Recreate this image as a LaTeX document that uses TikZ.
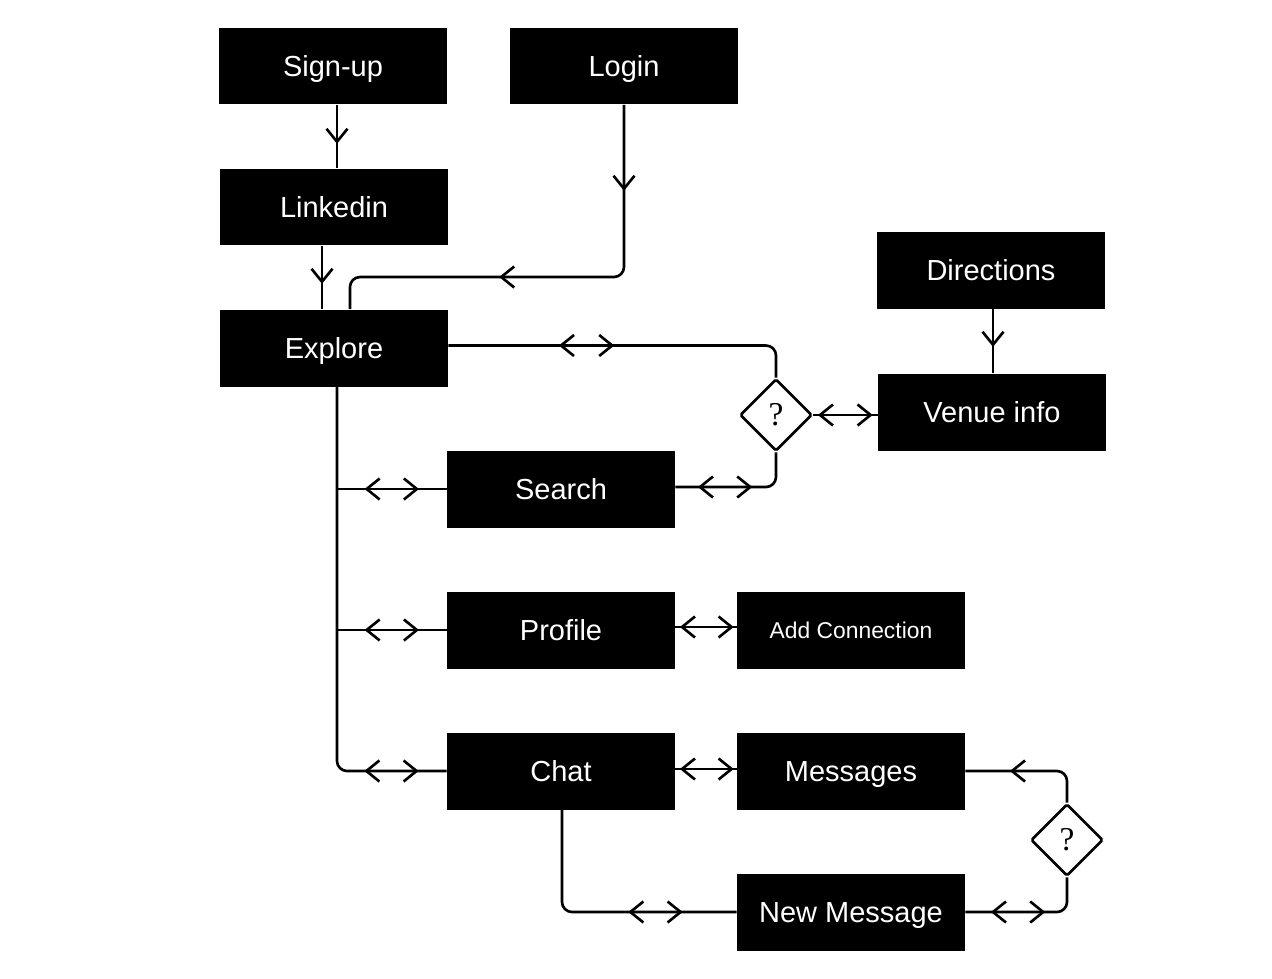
\documentclass[tikz,border=0pt]{standalone}
\usepackage{fontspec}
\setmainfont{Liberation Sans}
\newfontfamily\qfont{Liberation Serif}
\usetikzlibrary{arrows.meta, shapes.geometric, decorations.markings}
\tikzset{
  box/.style={fill=black, text=white, minimum width=4.56cm, minimum height=1.54cm,
    inner sep=0pt, text height=11.8pt, text depth=0pt, font=\fontsize{16.5}{20}\selectfont},
  choice/.style={diamond, draw, line width=1.5pt, fill=white, minimum size=1.44cm,
    inner sep=0pt, rounded corners=1pt, font=\qfont\fontsize{19}{20}\selectfont},
  link/.style={line width=1.5pt, rounded corners=2mm},
  fwd/.style={decoration={markings, mark=at position #1 with {\arrow{>}}},
    postaction={decorate}},
  back/.style={decoration={markings, mark=at position #1 with {\arrow{<}}},
    postaction={decorate}},
  fwdfwd/.style 2 args={decoration={markings, mark=at position #1 with {\arrow{>}},
    mark=at position #2 with {\arrow{>}}}, postaction={decorate}},
  twoway/.style 2 args={decoration={markings, mark=at position #1 with {\arrow{<}},
    mark=at position #2 with {\arrow{>}}}, postaction={decorate}}
}

\begin{document}
\begin{tikzpicture}[x=0.02cm, y=-0.02cm, >={Straight Barb[length=2.6mm, width=4.2mm]}]
  \useasboundingbox (0,0) rectangle (1272,978);

  % Screens
  \node[box] (signup) at (333,66) {Sign-up};
  \node[box] (login) at (624,66) {Login};
  \node[box] (linkedin) at (334,207) {Linkedin};
  \node[box] (explore) at (334,348) {Explore};
  \node[box] (directions) at (991,270) {Directions};
  \node[box] (venue) at (992,412) {Venue info};
  \node[box] (search) at (561,489) {Search};
  \node[box] (profile) at (561,630) {Profile};
  \node[box, text height=9.3pt, font=\fontsize{13}{16}\selectfont] (addconn) at (851,630) {Add Connection};
  \node[box] (chat) at (561,771) {Chat};
  \node[box] (messages) at (851,771) {Messages};
  \node[box] (newmsg) at (851,912) {New Message};

  % Decisions
  \node[choice] (q1) at (776,415) {?};
  \node[choice] (q2) at (1067,840) {?};

  % Entry flow
  \draw[link, fwd=0.78cm] ([xshift=0.08cm]signup.south) -- ([xshift=0.08cm]signup.south |- linkedin.north);
  \draw[link, fwd=0.76cm] ([xshift=-0.24cm]linkedin.south) -- ([xshift=-0.24cm]linkedin.south |- explore.north);
  \coordinate (exin) at ([xshift=0.32cm]explore.north);
  \draw[link, fwdfwd={1.72cm}{-3.54cm}] (login.south) |- (exin |- 0,277) -- (exin);

  % Explore and venues
  \draw[link, twoway={2.54cm}{3.32cm}] ([yshift=0.05cm]explore.east) -| (q1.north);
  \draw[link, twoway={0.42cm}{-0.1cm}] (q1.east) -- (q1.east -| venue.west);
  \draw[link, twoway={0.78cm}{1.54cm}] ([yshift=0.04cm]search.east) -| (q1.south);
  \draw[link, fwd=0.76cm] ([xshift=0.04cm]directions.south) -- ([xshift=0.04cm]directions.south |- venue.north);

  % Explore menu
  \coordinate (trunk) at ([xshift=0.06cm]explore.south);
  \draw[link, twoway={-1.32cm}{-0.56cm}] (trunk) |- (chat.west);
  \draw[link, twoway={0.88cm}{1.64cm}] (trunk |- search.west) -- (search.west);
  \draw[link, twoway={0.88cm}{1.64cm}] (trunk |- profile.west) -- (profile.west);
  \draw[link, twoway={0.42cm}{-0.06cm}] ([yshift=0.06cm]profile.east) -- ([yshift=0.06cm]addconn.west);
  \draw[link, twoway={0.42cm}{-0.06cm}] ([yshift=0.04cm]chat.east) -- ([yshift=0.04cm]messages.west);

  % Chat flow
  \draw[link, twoway={-1.84cm}{-1.08cm}] ([xshift=0.02cm]chat.south) |- (newmsg.west);
  \draw[link, back=1.22cm] (messages.east) -| (q2.north);
  \draw[link, twoway={0.84cm}{1.6cm}] (newmsg.east) -| (q2.south);
\end{tikzpicture}
\end{document}
